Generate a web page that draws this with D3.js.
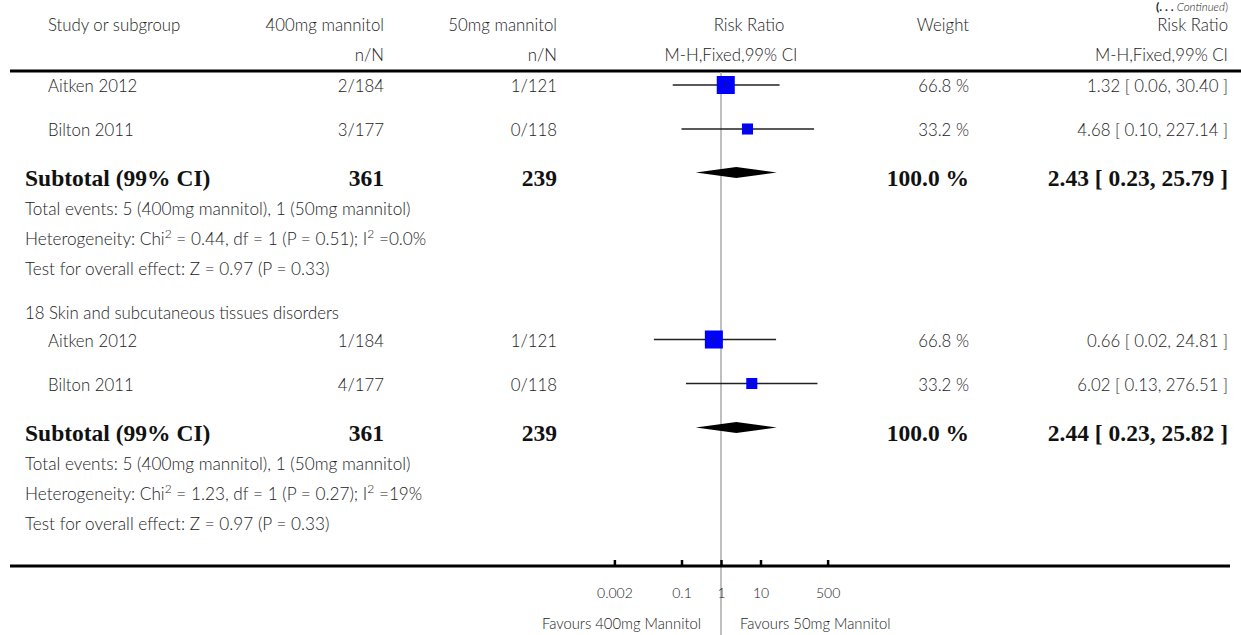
<!DOCTYPE html>
<html>
<head>
<meta charset="utf-8">
<script src="https://cdn.jsdelivr.net/npm/d3@7"></script>
<style>
  html, body { margin: 0; padding: 0; background: #fff; }
  svg { display: block; }
  .reg { font-family: Lato, "Open Sans", sans-serif; font-weight: 300; font-size: 16.8px; fill: #222; }
  .info { font-family: Lato, "Open Sans", sans-serif; font-weight: 300; font-size: 17.2px; fill: #222; }
  .bold { font-family: "Liberation Serif", "DejaVu Serif", serif; font-weight: bold; font-size: 23.5px; fill: #111; }
</style>
</head>
<body>
<svg id="chart" width="1241" height="635"></svg>
<script>
// ---------------- data ----------------
const headerTop = ["Study or subgroup", "400mg mannitol", "50mg mannitol", "Risk Ratio", "Weight", "Risk Ratio"];
const headerSub = ["", "n/N", "n/N", "M-H,Fixed,99% CI", "", "M-H,Fixed,99% CI"];

const groupTitles = ["", "18 Skin and subcutaneous tissues disorders"];
const studyGroup = [0, 0, 1, 1];
const studyLabels = ["Aitken 2012", "Bilton 2011", "Aitken 2012", "Bilton 2011"];
const treatment = ["2/184", "3/177", "1/184", "4/177"];
const control = ["1/121", "0/118", "1/121", "0/118"];
const rr = [1.32, 4.68, 0.66, 6.02];
const rrLow = [0.06, 0.10, 0.02, 0.13];
const rrHigh = [30.40, 227.14, 24.81, 276.51];
const weights = [66.8, 33.2, 66.8, 33.2];

const subTreatN = [361, 361];
const subCtrlN = [239, 239];
const subRR = [2.43, 2.44];
const subLow = [0.23, 0.23];
const subHigh = [25.79, 25.82];
const subWeight = [100.0, 100.0];
const totalEvents = ["Total events: 5 (400mg mannitol), 1 (50mg mannitol)", "Total events: 5 (400mg mannitol), 1 (50mg mannitol)"];
const hetChi = ["0.44", "1.23"];
const hetP = ["0.51", "0.27"];
const hetI2 = ["0.0%", "19%"];
const overallEffect = ["Test for overall effect: Z = 0.97 (P = 0.33)", "Test for overall effect: Z = 0.97 (P = 0.33)"];

const tickValues = [0.002, 0.1, 1, 10, 500];
const tickLabels = ["0.002", "0.1", "1", "10", "500"];
const favoursLeft = "Favours 400mg Mannitol";
const favoursRight = "Favours 50mg Mannitol";

// ---------------- layout ----------------
const svg = d3.select("#chart");
const W = 1241;
const x = d3.scaleLog().domain([0.001, 1000]).range([721 - 3 * 39.5, 721 + 3 * 39.5]);
const size = d3.scalePow().exponent(0.7).domain([0, 100]).range([0, 23.9]);

const col = { study: 48, treat: 384, ctrl: 557, weight: 969, ci: 1228 };
const studyY = [85, 129, 339.5, 383.5];
const subY = [172.5, 427.5];
const groupTitleY = [null, 319];
const infoBase = [[215, 245, 275], [470, 500, 530]];

function txt(xp, yp, s, cls, anchor) {
  return svg.append("text").attr("x", xp).attr("y", yp).attr("class", cls)
    .attr("text-anchor", anchor || "start").text(s);
}

// continued label at the top right
const cont = svg.append("text").attr("x", col.ci).attr("y", 11).attr("class", "reg")
  .attr("text-anchor", "end").style("font-size", "12px");
cont.append("tspan").style("font-weight", "bold").text("(. . . ");
cont.append("tspan").style("font-style", "italic").style("font-size", "11.5px").text("Continued");
cont.append("tspan").text(")");

// headers
const hx = [[48, "start"], [col.treat, "end"], [col.ctrl, "end"], [749, "middle"], [col.weight, "end"], [col.ci, "end"]];
const hsx = [[48, "start"], [col.treat, "end"], [col.ctrl, "end"], [731, "middle"], [col.weight, "end"], [col.ci, "end"]];
headerTop.forEach((h, i) => { if (h) txt(hx[i][0], 31, h, "reg", hx[i][1]); });
headerSub.forEach((h, i) => { if (h) txt(hsx[i][0], 61, h, "reg", hsx[i][1]); });

svg.append("line").attr("x1", 10).attr("x2", W).attr("y1", 71).attr("y2", 71)
  .attr("stroke", "#000").attr("stroke-width", 3);

// vertical null line
svg.append("line").attr("x1", x(1)).attr("x2", x(1)).attr("y1", 72).attr("y2", 635)
  .attr("stroke", "#aaa").attr("stroke-width", 1.5);

groupTitles.forEach((g, i) => { if (g) txt(25, groupTitleY[i], g, "reg"); });

// study rows
studyLabels.forEach((s, i) => {
  const y = studyY[i];
  txt(col.study, y + 7, s, "reg");
  txt(col.treat, y + 7, treatment[i], "reg", "end");
  txt(col.ctrl, y + 7, control[i], "reg", "end");
  txt(col.weight, y + 7, weights[i].toFixed(1) + " %", "reg", "end");
  txt(col.ci, y + 7, rr[i].toFixed(2) + " [ " + rrLow[i].toFixed(2) + ", " + rrHigh[i].toFixed(2) + " ]", "reg", "end");
  svg.append("line").attr("x1", x(rrLow[i])).attr("x2", x(rrHigh[i])).attr("y1", y).attr("y2", y)
    .attr("stroke", "#222").attr("stroke-width", 1.5);
  const s2 = size(weights[i]);
  svg.append("rect").attr("x", x(rr[i]) - s2 / 2).attr("y", y - s2 / 2)
    .attr("width", s2).attr("height", s2).attr("fill", "#0000ff");
  svg.append("line").attr("x1", x(rr[i])).attr("x2", x(rr[i])).attr("y1", y - 2.5).attr("y2", y + 2.5)
    .attr("stroke", "#222").attr("stroke-width", 1);
});

// subtotals
subRR.forEach((v, i) => {
  const y = subY[i];
  txt(25, y + 13.5, "Subtotal (99% CI)", "bold");
  txt(col.treat, y + 13.5, subTreatN[i], "bold", "end");
  txt(col.ctrl, y + 13.5, subCtrlN[i], "bold", "end");
  txt(col.weight, y + 13.5, subWeight[i].toFixed(1) + " %", "bold", "end");
  txt(col.ci, y + 13.5, v.toFixed(2) + " [ " + subLow[i].toFixed(2) + ", " + subHigh[i].toFixed(2) + " ]", "bold", "end");
  const h = 5.5;
  svg.append("path")
    .attr("d", `M${x(subLow[i])},${y} L${x(v)},${y - h} L${x(subHigh[i])},${y} L${x(v)},${y + h} Z`)
    .attr("fill", "#000");

  const b = infoBase[i];
  txt(25, b[0], totalEvents[i], "info");
  const het = svg.append("text").attr("x", 25).attr("y", b[1]).attr("class", "info");
  het.append("tspan").text("Heterogeneity: Chi");
  het.append("tspan").attr("baseline-shift", "super").style("font-size", "12px").text("2");
  het.append("tspan").text(" = " + hetChi[i] + ", df = 1 (P = " + hetP[i] + "); I");
  het.append("tspan").attr("baseline-shift", "super").style("font-size", "12px").text("2");
  het.append("tspan").text(" =" + hetI2[i]);
  txt(25, b[2], overallEffect[i], "info");
});

// axis
const axisY = 566;
svg.append("line").attr("x1", 10).attr("x2", 1230).attr("y1", axisY).attr("y2", axisY)
  .attr("stroke", "#000").attr("stroke-width", 3);
const axis = d3.axisBottom(x).tickValues(tickValues)
  .tickFormat((d, i) => tickLabels[i]).tickSize(-6).tickPadding(22);
const ag = svg.append("g").attr("transform", `translate(0,${axisY})`).call(axis);
ag.select(".domain").remove();
ag.selectAll(".tick line").attr("stroke", "#000").attr("stroke-width", 2.5);
ag.selectAll(".tick text").style("font-family", "Lato, sans-serif").style("font-weight", 300)
  .style("font-size", "14px").attr("fill", "#222");

txt(x(1) - 20, 629, favoursLeft, "reg", "end").style("font-size", "14.8px");
txt(x(1) + 19, 629, favoursRight, "reg", "start").style("font-size", "14.8px");
</script>
</body>
</html>
